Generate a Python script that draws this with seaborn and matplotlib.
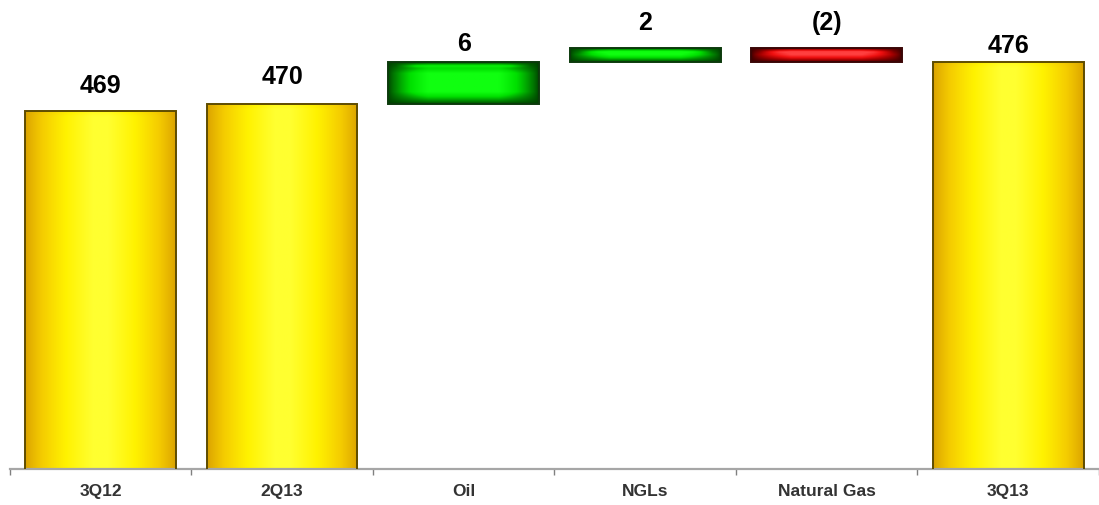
import numpy as np
import pandas as pd
import matplotlib
matplotlib.use("Agg")
import matplotlib.pyplot as plt
import seaborn as sns
from matplotlib.colors import LinearSegmentedColormap

# Production bridge: quarter totals and the changes between them
categories = ["3Q12", "2Q13", "Oil", "NGLs", "Natural Gas", "3Q13"]
kinds = ["total", "total", "delta", "delta", "delta", "total"]
values = [469, 470, 6, 2, -2, 476]

# styling
Y_LO, Y_HI = 418, 485
BAR_WIDTH = 0.83
label_pad_pt = [14, 15, 9, 14, 14, 7]

# running waterfall extents
bottoms, tops = [], []
level = 0
for kind, v in zip(kinds, values):
    if kind == "total":
        bottoms.append(0)
        tops.append(v)
        level = v
    else:
        lo, hi = sorted([level, level + v])
        bottoms.append(lo)
        tops.append(hi)
        level += v

df = pd.DataFrame({"category": categories, "top": tops})

sns.set_theme(style="white")
plt.rcParams["font.family"] = ["Liberation Sans", "DejaVu Sans"]

fig = plt.figure(figsize=(10.99, 5.06), dpi=100)
ax = fig.add_axes([0.009, 0.071, 0.991, 0.929])

sns.barplot(data=df, x="category", y="top", order=categories, width=BAR_WIDTH,
            color="#FFE000", ax=ax, zorder=3)

ax.set_ylim(Y_LO, Y_HI)
ax.set_xlim(-0.5, 5.5)

cmaps = {
    "yellow": LinearSegmentedColormap.from_list("y", ["#D9A000", "#F5CC00", "#FFF200", "#FFFF30"]),
    "green": LinearSegmentedColormap.from_list("g", ["#004000", "#008A00", "#00E000", "#10FF10"]),
    "red": LinearSegmentedColormap.from_list("r", ["#3A0000", "#A00000", "#F01010", "#FF4040"]),
}
edge_colors = {"yellow": "#5E4C00", "green": "#0C3A0C", "red": "#3A0606"}

fig.canvas.draw()
ax_w_px = ax.get_window_extent().width
ax_h_px = ax.get_window_extent().height
px_per_x = ax_w_px / 6.0
px_per_y = ax_h_px / (Y_HI - Y_LO)

for i, patch in enumerate(ax.patches):
    kind, v = kinds[i], values[i]
    style = "yellow" if kind == "total" else ("green" if v > 0 else "red")
    b, t = bottoms[i], tops[i]
    patch.set_y(b)
    patch.set_height(t - b)
    patch.set_facecolor("none")
    patch.set_edgecolor(edge_colors[style])
    patch.set_linewidth(1.4)

    x0 = patch.get_x()
    w = patch.get_width()
    vis_b = max(b, Y_LO)
    wpx = w * px_per_x
    hpx = (t - vis_b) * px_per_y
    nx, ny = 300, max(int(hpx) * 2, 16)
    xs = np.linspace(0, wpx, nx)
    ys = np.linspace(0, hpx, ny)
    dx = np.minimum(xs, wpx - xs)
    dy = np.minimum(ys, hpx - ys)
    if style == "yellow":
        sx = np.clip(dx / (wpx * 0.45), 0, 1) ** 0.8
        sy = np.ones_like(dy)
        sy[-12:] = np.linspace(1.0, 0.85, 12)
        shade = np.outer(sy, sx)
    else:
        fall = min(hpx * 0.5, 12)
        sx = np.clip(dx / 40.0, 0, 1) ** 0.7
        sy = np.clip(dy / fall, 0, 1) ** 0.8
        shade = np.outer(sy, sx)
        # glossy highlight strip near the top edge
        hl = np.exp(-((ys - (hpx - 4.5)) / 1.6) ** 2)
        hx = np.clip((dx - 8) / 20.0, 0, 1)
        shade = np.clip(shade + 0.35 * np.outer(hl, hx), 0, 1)
    img = ax.imshow(shade, cmap=cmaps[style], vmin=0, vmax=1, origin="lower",
                    extent=(x0, x0 + w, vis_b, t), aspect="auto",
                    interpolation="bilinear", zorder=2)
    img.set_clip_path(patch)

    if kind == "total":
        text = f"{v:,}"
    else:
        text = f"{v}" if v >= 0 else f"({abs(v)})"
    ax.annotate(text, xy=(i, t), xytext=(0, label_pad_pt[i]), textcoords="offset points",
                ha="center", va="baseline", fontsize=18, fontweight="bold", color="black")

ax.set_xlim(-0.5, 5.5)
ax.set_ylim(Y_LO, Y_HI)

# axis styling: only a grey baseline with boundary ticks
for side in ["top", "right", "left"]:
    ax.spines[side].set_visible(False)
ax.spines["bottom"].set_color("#A6A6A6")
ax.spines["bottom"].set_linewidth(1.6)
ax.set_yticks([])
ax.set_xlabel("")
ax.set_ylabel("")
ax.set_xticks(np.arange(-0.5, 6.0, 1.0), minor=True)
ax.tick_params(axis="x", which="major", bottom=False, length=0, pad=10, labelsize=12.5,
               labelcolor="#333333")
ax.tick_params(axis="x", which="minor", bottom=True, length=4, width=1, color="#808080",
               direction="out")
for lbl in ax.get_xticklabels():
    lbl.set_fontweight("bold")

fig.savefig("out.png", dpi=100, facecolor="white")
